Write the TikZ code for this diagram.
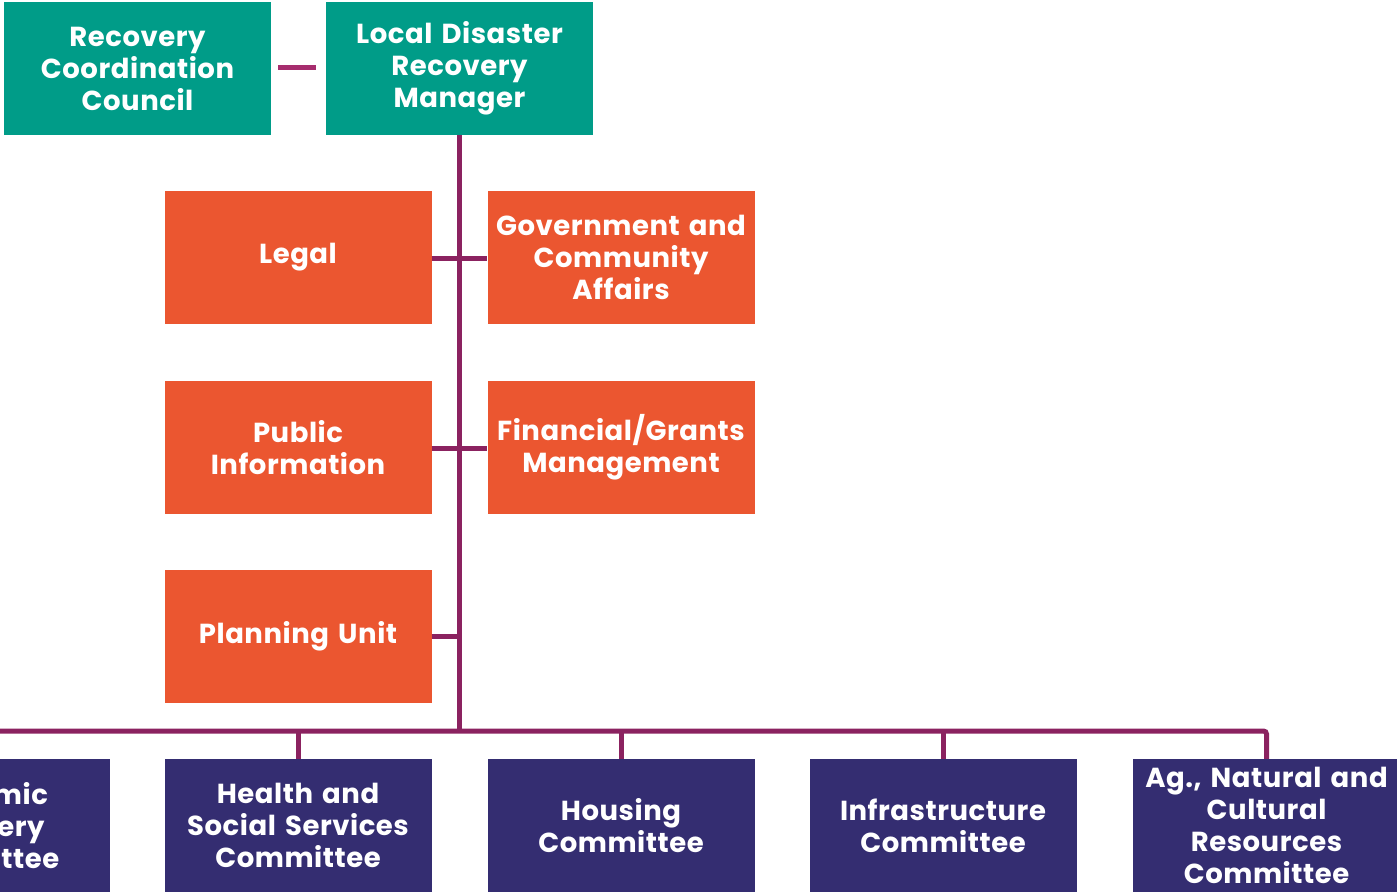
\documentclass[tikz,border=0pt]{standalone}
\usepackage{fontspec}
\setmainfont{Poppins}[LetterSpace=2]
\usetikzlibrary{shadows}
\definecolor{teal1}{HTML}{009C88}
\definecolor{orange1}{HTML}{EB5630}
\definecolor{navy1}{HTML}{342D71}
\definecolor{line1}{HTML}{8B2260}
\definecolor{line2}{HTML}{A62D6E}
\tikzset{
  box/.style={rectangle, minimum width=267pt, minimum height=133pt, inner sep=0pt,
    text width=266pt, align=center, text=white,
    font=\bfseries\fontsize{27.5}{32}\selectfont},
  greenbox/.style={box, fill=teal1},
  orangebox/.style={box, fill=orange1},
  navybox/.style={box, fill=navy1},
  conn/.style={draw=line1, line width=5pt},
}
\begin{document}
\begin{tikzpicture}[x=1pt,y=-1pt]
\useasboundingbox (0,0) rectangle (1397,892);
\clip (0,0) rectangle (1397,892);
% top
\node[greenbox] (rcc) at (137.5,68.5) {Recovery\\Coordination\\Council};
\node[greenbox] (ldrm) at (459.5,68.5) {Local Disaster\\Recovery\\Manager};
% staff
\node[orangebox] (legal) at (298,257.5) {Legal};
\node[orangebox] (gca) at (621,257.5) {Government and\\Community\\Affairs};
\node[orangebox] (pi) at (298,447.5) {Public\\Information};
\node[orangebox] (fgm) at (621,447.5) {Financial/Grants\\Management};
\node[orangebox] (pu) at (298,636.5) {Planning Unit};
% committees
\node[navybox] (econ) at (-23.5,825.5) {Economic\\Recovery\\Committee};
\node[navybox] (hss) at (298,825.5) {Health and\\Social Services\\Committee};
\node[navybox] (hous) at (621,825.5) {Housing\\Committee};
\node[navybox] (infra) at (943,825.5) {Infrastructure\\Committee};
\node[navybox] (ag) at (1266.5,825.5) {Ag., Natural and\\Cultural\\Resources\\Committee};
% coordinates
\coordinate (bus) at (459.5,731);
\coordinate (jl) at (459.5,258);
\coordinate (jp) at (459.5,448);
\coordinate (jpu) at (459.5,636.5);
\coordinate (rccR) at (278,67);
\coordinate (ldrmL) at (316,67);
% connectors
\draw[line2, line width=5pt, drop shadow={shadow xshift=0pt, shadow yshift=-2pt, opacity=0.25}] (rccR) -- (ldrmL);
\draw[conn] (ldrm.south) -- (bus);
\draw[conn] (legal.east |- jl) -- (gca.west |- jl);
\draw[conn] (pi.east |- jp) -- (fgm.west |- jp);
\draw[conn] (pu.east |- jpu) -- (jpu);
\draw[conn, rounded corners=3pt] (econ.north) -- (econ.north |- bus) -- (ag.north |- bus) -- (ag.north);
\draw[conn] (hss.north |- bus) -- (hss.north);
\draw[conn] (hous.north |- bus) -- (hous.north);
\draw[conn] (infra.north |- bus) -- (infra.north);
\end{tikzpicture}
\end{document}
